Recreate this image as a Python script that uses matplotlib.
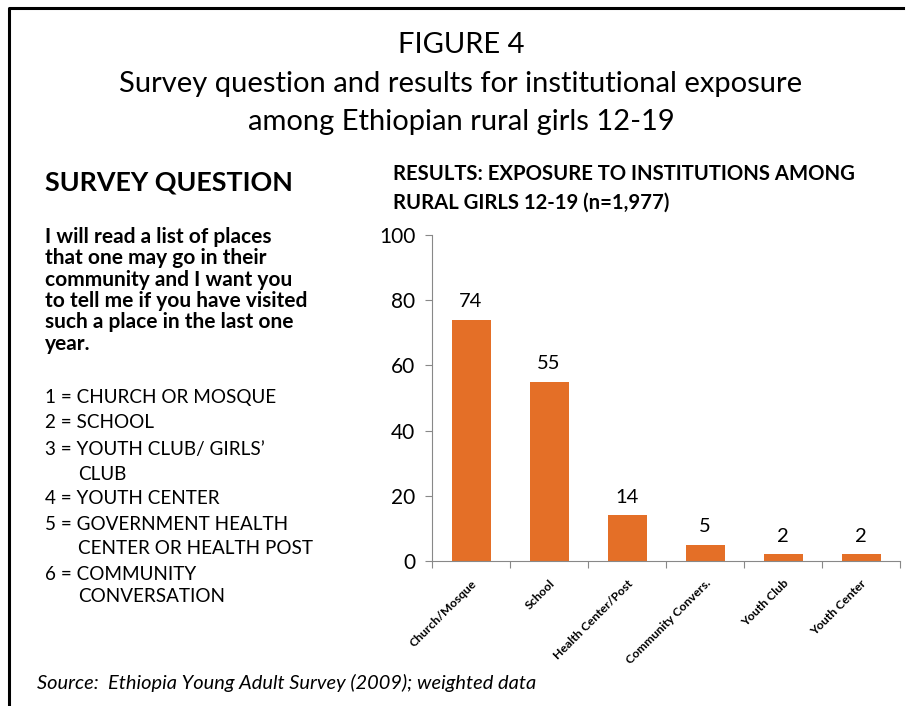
import matplotlib
matplotlib.use('Agg')
import matplotlib.pyplot as plt
from matplotlib.lines import Line2D

plt.rcParams['font.family'] = ['Lato', 'DejaVu Sans']

# 数据
categories = ['Church/Mosque', 'School', 'Health Center/Post',
              'Community Convers.', 'Youth Club', 'Youth Center']
values = [74, 55, 14, 5, 2, 2]
y_ticks = [0, 20, 40, 60, 80, 100]

title_lines = ['FIGURE 4',
               'Survey question and results for institutional exposure',
               'among Ethiopian rural girls 12-19']
question_lines = ['I will read a list of places',
                  'that one may go in their',
                  'community and I want you',
                  'to tell me if you have visited',
                  'such a place in the last one',
                  'year.']
answer_lines = [('1 = CHURCH OR MOSQUE', 0), ('2 = SCHOOL', 0),
                ('3 = YOUTH CLUB/ GIRLS\u2019', 0), ('CLUB', 1),
                ('4 = YOUTH CENTER', 0), ('5 = GOVERNMENT HEALTH', 0),
                ('CENTER OR HEALTH POST', 1), ('6 = COMMUNITY', 0),
                ('CONVERSATION', 1)]
results_title = ['RESULTS: EXPOSURE TO INSTITUTIONS AMONG',
                 'RURAL GIRLS 12-19 (n=1,977)']
source = 'Source:  Ethiopia Young Adult Survey (2009); weighted data'

W, H = 910, 706
fig = plt.figure(figsize=(W / 100, H / 100), dpi=100)


def fx(px):
    return px / W


def fy(py):
    return 1 - py / H


# 边框（只有左边和上边）
fig.add_artist(Line2D([fx(9), fx(9), fx(903)], [0, fy(8), fy(8)],
                      color='black', lw=2.2, transform=fig.transFigure))

# 标题
for txt, y in zip(title_lines, [45, 84, 122]):
    fig.text(fx(461), fy(y), txt, ha='center', va='center', fontsize=21)

# 左侧问题
fig.text(fx(45), fy(182), 'SURVEY QUESTION', ha='left', va='center',
         fontsize=19.4, fontweight='bold')
for i, txt in enumerate(question_lines):
    fig.text(fx(45), fy(237 + i * 21.3), txt, ha='left', va='center',
             fontsize=15, fontweight='bold')
ys = [397, 423, 450, 474, 498, 524, 548, 574, 597]
for (txt, ind), y in zip(answer_lines, ys):
    fig.text(fx(45 + ind * 33), fy(y), txt, ha='left', va='center', fontsize=13.6)

for txt, y in zip(results_title, [174, 203]):
    fig.text(fx(393), fy(y), txt, ha='left', va='center',
             fontsize=14.6, fontweight='bold')

fig.text(fx(37), fy(683), source, ha='left', va='center',
         fontsize=14.4, style='italic')

# 柱状图
ax = fig.add_axes([fx(432), fy(561), fx(900) - fx(432), fy(235) - fy(561)])
x = list(range(len(categories)))
bars = ax.bar(x, values, width=0.5, color='#E46F27')
for xi, v in zip(x, values):
    ax.text(xi, v + 3, str(v), ha='center', va='bottom', fontsize=14.5)

ax.set_ylim(0, 100)
ax.set_xlim(-0.5, len(categories) - 0.5)
ax.set_yticks(y_ticks)
ax.tick_params(axis='y', labelsize=15, color='#888888', length=5, pad=7)
ax.set_xticks([i - 0.5 for i in range(len(categories) + 1)], minor=False)
ax.set_xticklabels([])
ax.set_xticks(x, minor=True)
ax.set_xticklabels(categories, minor=True, rotation=45, ha='right',
                   rotation_mode='anchor', fontsize=8.8, fontweight='bold')
ax.tick_params(axis='x', which='major', color='#888888', length=5)
ax.tick_params(axis='x', which='minor', length=0, pad=12)
for s in ['top', 'right']:
    ax.spines[s].set_visible(False)
for s in ['left', 'bottom']:
    ax.spines[s].set_color('#888888')

fig.savefig('out.png', dpi=100)
